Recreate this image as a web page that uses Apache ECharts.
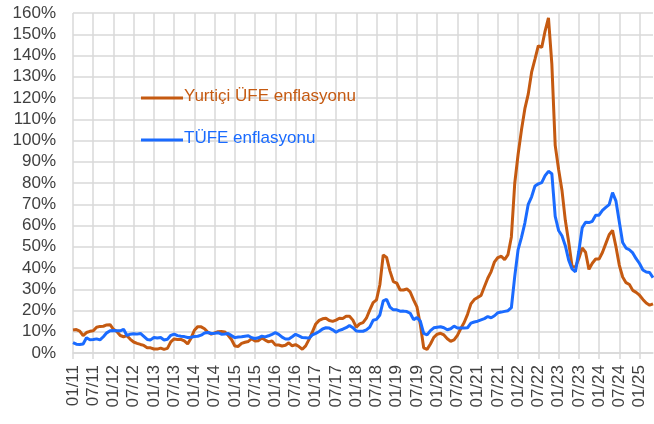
<!DOCTYPE html>
<html>
<head>
<meta charset="utf-8">
<script src="https://cdn.jsdelivr.net/npm/echarts@6/dist/echarts.min.js"></script>
<style>
  html, body { margin: 0; padding: 0; background: #fff; }
  #chart { width: 654px; height: 424px; }
</style>
</head>
<body>
<div id="chart"></div>
<script>
// aylık yıllık değişim (%), 01/2011 - 05/2025
var ufe = [
  10.80, 11.01, 10.31, 8.21, 9.63, 10.19, 10.43, 12.15, 12.52, 12.58, 13.20, 13.33,
  11.13, 10.08, 8.22, 7.65, 8.16, 6.44, 5.17, 4.56, 4.03, 3.57, 2.52, 2.45,
  1.88, 1.84, 2.30, 1.70, 2.17, 5.23, 6.61, 6.38, 6.40, 5.67, 4.26, 6.97,
  10.72, 12.40, 12.31, 11.42, 9.75, 8.88, 9.46, 10.05, 10.10, 9.91, 8.36, 6.36,
  3.28, 3.10, 4.51, 5.04, 5.44, 6.73, 5.62, 5.81, 7.07, 6.08, 5.25, 5.71,
  3.82, 3.79, 3.31, 3.63, 4.80, 3.41, 3.96, 3.03, 1.78, 3.37, 6.41, 9.94,
  13.69, 15.36, 16.09, 16.37, 15.26, 14.87, 15.45, 16.34, 16.28, 17.28, 17.30, 15.47,
  12.14, 13.71, 14.28, 16.37, 20.16, 23.71, 25.00, 32.13, 46.15, 45.01, 38.54, 33.64,
  32.93, 29.64, 29.64, 30.12, 28.71, 25.04, 21.66, 13.45, 2.45, 1.70, 4.26, 7.36,
  8.84, 9.26, 8.50, 6.71, 5.53, 6.17, 8.33, 11.53, 14.33, 18.20, 23.11, 25.15,
  26.16, 27.09, 31.20, 35.17, 38.33, 42.89, 44.92, 45.52, 43.96, 46.31, 54.62, 79.89,
  93.53, 105.01, 114.97, 121.82, 132.16, 138.31, 144.61, 143.75, 151.50, 157.69, 136.02, 97.72,
  86.46, 76.61, 62.43, 52.11, 40.76, 40.42, 44.50, 49.41, 47.44, 39.35, 42.25, 44.22,
  44.20, 47.29, 51.47, 55.66, 57.68, 50.09, 41.37, 35.75, 33.09, 32.24, 29.47, 28.52,
  27.20, 25.21, 23.50, 22.50, 23.13
]

var tufe = [
  4.90, 4.16, 3.99, 4.26, 7.17, 6.24, 6.31, 6.65, 6.15, 7.66, 9.48, 10.45,
  10.61, 10.43, 10.43, 11.14, 8.28, 8.87, 9.07, 8.88, 9.19, 7.80, 6.37, 6.16,
  7.31, 7.03, 7.29, 6.13, 6.51, 8.30, 8.88, 8.17, 7.88, 7.71, 7.32, 7.40,
  7.75, 7.89, 8.39, 9.38, 9.66, 9.16, 9.32, 9.54, 8.86, 8.96, 9.15, 8.17,
  7.24, 7.55, 7.61, 7.91, 8.09, 7.20, 6.81, 7.14, 7.95, 7.58, 8.10, 8.81,
  9.58, 8.78, 7.46, 6.57, 6.58, 7.64, 8.79, 8.05, 7.28, 7.16, 7.00, 8.53,
  9.22, 10.13, 11.29, 11.87, 11.72, 10.90, 9.79, 10.68, 11.20, 11.90, 12.98, 11.92,
  10.35, 10.26, 10.23, 10.85, 12.15, 15.39, 15.85, 17.90, 24.52, 25.24, 21.62, 20.30,
  20.35, 19.67, 19.71, 19.50, 18.71, 15.72, 16.65, 15.01, 9.26, 8.55, 10.56, 11.84,
  12.15, 12.37, 11.86, 10.94, 11.39, 12.62, 11.76, 11.77, 11.75, 11.89, 14.03, 14.60,
  14.97, 15.61, 16.19, 17.14, 16.59, 17.53, 18.95, 19.25, 19.58, 19.89, 21.31, 36.08,
  48.69, 54.44, 61.14, 69.97, 73.50, 78.62, 79.60, 80.21, 83.45, 85.51, 84.39, 64.27,
  57.68, 55.18, 50.51, 43.68, 39.59, 38.21, 47.83, 58.94, 61.53, 61.36, 61.98, 64.77,
  64.86, 67.07, 68.50, 69.80, 75.45, 71.60, 61.78, 51.97, 49.38, 48.58, 47.09, 44.38,
  42.12, 39.05, 38.10, 37.86, 35.41
]

var startYear = 2011
var seriesNames = ['Yurtiçi ÜFE enflasyonu', 'TÜFE enflasyonu']
var seriesColors = ['#C55A11', '#1A6BFF']

function monthLabels(count) {
  var out = []
  for (var k = 0; k < count; k++) {
    var mm = k % 12 + 1
    var yy = (startYear + Math.floor(k / 12)) % 100
    out.push((mm < 10 ? '0' + mm : '' + mm) + '/' + (yy < 10 ? '0' + yy : '' + yy))
  }
  return out
}

// lejant: çizgi + metin (grafik katmanının üstünde)
function legendItem(idx, top) {
  return [
    { type: 'rect', z: 100, left: 141, top: top - 1.5, shape: { width: 42, height: 3 }, style: { fill: seriesColors[idx] } },
    { type: 'text', z: 100, left: 184, top: top - 10, style: { text: seriesNames[idx], fill: seriesColors[idx], fontSize: 17 } }
  ]
}

var chart = echarts.init(document.getElementById('chart'))
var gridColor = '#d9d9d9'
var textColor = '#404040'

chart.setOption({
  animation: false,
  grid: { left: 73, right: 1, top: 13, bottom: 71 },
  graphic: legendItem(0, 98).concat(legendItem(1, 140)),
  xAxis: {
    type: 'category',
    data: monthLabels(ufe.length),
    boundaryGap: false,
    axisLine: { lineStyle: { color: gridColor, width: 1.5 } },
    axisTick: { show: true, interval: 5, length: 6, lineStyle: { color: gridColor, width: 1.5 } },
    axisLabel: { interval: 5, rotate: 90, margin: 12, color: textColor, fontSize: 17 },
    splitLine: { show: true, interval: 5, lineStyle: { color: gridColor, width: 1.5 } }
  },
  yAxis: {
    type: 'value',
    min: 0,
    max: 160,
    interval: 10,
    axisLabel: { margin: 17, color: textColor, fontSize: 17, formatter: '{value}%' },
    splitLine: { lineStyle: { color: gridColor, width: 1.5 } }
  },
  series: [
    { name: seriesNames[0], type: 'line', data: ufe, symbol: 'none', lineStyle: { width: 3, color: seriesColors[0] }, itemStyle: { color: seriesColors[0] } },
    { name: seriesNames[1], type: 'line', data: tufe, symbol: 'none', lineStyle: { width: 3, color: seriesColors[1] }, itemStyle: { color: seriesColors[1] } }
  ]
})
</script>
</body>
</html>
